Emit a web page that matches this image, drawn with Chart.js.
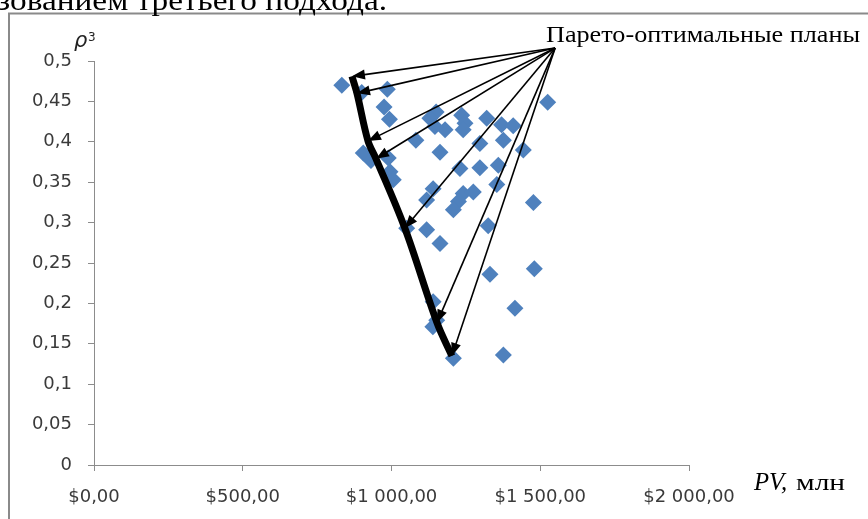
<!DOCTYPE html>
<html>
<head>
<meta charset="utf-8">
<script src="https://cdn.jsdelivr.net/npm/chart.js@4.4.0/dist/chart.umd.min.js"></script>
<style>
  html, body { margin: 0; padding: 0; background: #ffffff; overflow: hidden; }
  canvas { display: block; }
</style>
</head>
<body>
<canvas id="chart" width="868" height="519"></canvas>
<script>
// PV of every plan, $ mln
const pvValues = [
  833, 900, 986, 975, 993, 1150, 1129, 1236, 1247, 1241,
  1320, 1370, 1409, 1525, 1180, 1146, 1082, 1163, 1297, 1376,
  1443, 905, 989, 1230, 1297, 1359, 995, 1006, 1140, 1118,
  1241, 1275, 1225, 1208, 1354, 1477, 1118, 1163, 1325, 1051,
  1480, 1331, 1140, 1415, 1152, 1139, 1208, 1376, 931
];
// criterion rho^3 of every plan
const rhoValues = [
  0.470, 0.461, 0.465, 0.443, 0.428, 0.437, 0.429, 0.433, 0.423, 0.415,
  0.429, 0.421, 0.420, 0.449, 0.415, 0.419, 0.402, 0.387, 0.398, 0.402,
  0.390, 0.386, 0.380, 0.367, 0.368, 0.371, 0.363, 0.353, 0.342, 0.328,
  0.336, 0.338, 0.326, 0.316, 0.347, 0.325, 0.291, 0.274, 0.296, 0.293,
  0.243, 0.236, 0.202, 0.194, 0.179, 0.171, 0.132, 0.136, 0.377
];
// Pareto-optimal plans (frontier), from top to bottom
const paretoPV = [867, 884, 921, 948, 1045, 1153, 1203];
const paretoRho = [0.481, 0.460, 0.401, 0.379, 0.293, 0.176, 0.135];
// where the callout arrows start
const calloutPV = 1550;
const calloutRho = 0.516;

const xTickLabels = ['$0,00', '$500,00', '$1\u00a0000,00', '$1\u00a0500,00', '$2\u00a0000,00'];
const yTickLabels = ['0', '0,05', '0,1', '0,15', '0,2', '0,25', '0,3', '0,35', '0,4', '0,45', '0,5'];

const calloutText = 'Парето-оптимальные планы';
const headerText = 'использованием третьего подхода.';
const headerTail = 'зованием третьего подхода.';
const yTitleMain = 'ρ';
const yTitleSup = '3';
const xTitleItalic = 'PV,';
const xTitleUnit = 'млн';

const scatterPoints = pvValues.map((v, i) => ({ x: v, y: rhoValues[i] }));
const frontierPoints = paretoPV.map((v, i) => ({ x: v, y: paretoRho[i] }));

function drawText(ctx, text, x, y, font, align, stretch) {
  ctx.save();
  ctx.font = font;
  ctx.textBaseline = 'alphabetic';
  ctx.textAlign = 'left';
  const w = ctx.measureText(text).width * stretch;
  let left = x;
  if (align === 'right') left = x - w;
  ctx.translate(left, y);
  ctx.scale(stretch, 1);
  ctx.fillText(text, 0, 0);
  ctx.restore();
}

function drawTextToWidth(ctx, text, x, y, font, width) {
  ctx.save();
  ctx.font = font;
  const w = ctx.measureText(text).width;
  ctx.translate(x, y);
  ctx.scale(width / w, 1);
  ctx.textBaseline = 'alphabetic';
  ctx.fillText(text, 0, 0);
  ctx.restore();
}

// page frame, captions and callout arrows
const decorations = {
  id: 'decorations',
  afterDatasetsDraw(chart) {
    const ctx = chart.ctx;
    const xs = chart.scales.x, ys = chart.scales.y;
    const ox = xs.getPixelForValue(calloutPV);
    const oy = ys.getPixelForValue(calloutRho);
    ctx.save();
    ctx.strokeStyle = '#000';
    ctx.fillStyle = '#000';
    ctx.lineWidth = 1.6;
    frontierPoints.forEach(p => {
      const tx = xs.getPixelForValue(p.x);
      const ty = ys.getPixelForValue(p.y);
      const ang = Math.atan2(ty - oy, tx - ox);
      const len = 13, half = 5;
      const bx = tx - Math.cos(ang) * len;
      const by = ty - Math.sin(ang) * len;
      ctx.beginPath();
      ctx.moveTo(ox, oy);
      ctx.lineTo(bx + Math.cos(ang) * 2, by + Math.sin(ang) * 2);
      ctx.stroke();
      ctx.beginPath();
      ctx.moveTo(tx, ty);
      ctx.lineTo(bx - Math.sin(ang) * half, by + Math.cos(ang) * half);
      ctx.lineTo(bx + Math.sin(ang) * half, by - Math.cos(ang) * half);
      ctx.closePath();
      ctx.fill();
    });
    ctx.restore();
  },
  afterDraw(chart) {
    const ctx = chart.ctx;
    ctx.save();
    // frame of the figure
    ctx.strokeStyle = '#8a8a8a';
    ctx.lineWidth = 2;
    ctx.beginPath();
    ctx.moveTo(9, 519);
    ctx.lineTo(9, 13.5);
    ctx.lineTo(868, 13.5);
    ctx.stroke();

    ctx.fillStyle = '#000';
    // running text above the figure, cut by the top edge
    ctx.font = '30px "Liberation Serif"';
    const tailW = ctx.measureText(headerTail).width;
    const fullW = ctx.measureText(headerText).width;
    const k = 390 / tailW;
    ctx.save();
    ctx.translate(387 - fullW * k, 10);
    ctx.scale(k, 1);
    ctx.fillText(headerText, 0, 0);
    ctx.restore();
    // callout caption
    drawTextToWidth(ctx, calloutText, 546, 42, '23px "Liberation Serif"', 314);
    // axis captions
    ctx.fillStyle = '#222';
    drawText(ctx, yTitleMain, 74, 47, 'italic 21px "DejaVu Sans"', 'left', 1.0);
    drawText(ctx, yTitleSup, 88, 41, '12px "DejaVu Sans"', 'left', 1.0);
    ctx.fillStyle = '#000';
    drawText(ctx, xTitleItalic, 754, 490, 'italic 26px "Liberation Serif"', 'left', 0.95);
    drawText(ctx, xTitleUnit, 796, 490, '23px "Liberation Serif"', 'left', 1.28);
    ctx.restore();
  }
};

new Chart(document.getElementById('chart'), {
  type: 'scatter',
  data: {
    datasets: [
      {
        label: 'frontier',
        data: frontierPoints,
        showLine: true,
        borderColor: '#000000',
        borderWidth: 7,
        tension: 0.35,
        pointRadius: 0,
        borderJoinStyle: 'round',
        order: 1
      },
      {
        label: 'plans',
        data: scatterPoints,
        pointStyle: 'rectRot',
        pointRadius: 8.5,
        pointBackgroundColor: '#4F81BD',
        pointBorderColor: '#4F81BD',
        pointBorderWidth: 0,
        order: 2
      }
    ]
  },
  options: {
    responsive: false,
    animation: false,
    layout: { padding: { left: 0, right: 179, top: 61, bottom: 0 } },
    plugins: { legend: { display: false }, tooltip: { enabled: false } },
    scales: {
      x: {
        type: 'linear',
        min: 0,
        max: 2000,
        afterFit(scale) { scale.height = 54; },
        ticks: {
          stepSize: 500,
          padding: 16,
          color: '#3a3a3a',
          font: { family: '"DejaVu Sans"', size: 18 },
          maxRotation: 0,
          callback: (v, i) => xTickLabels[i]
        },
        grid: { drawOnChartArea: false, drawTicks: true, tickLength: 6, color: '#8c8c8c' },
        border: { display: true, color: '#8c8c8c', width: 1 }
      },
      y: {
        type: 'linear',
        min: 0,
        max: 0.5,
        afterFit(scale) { scale.width = 94; },
        ticks: {
          stepSize: 0.05,
          padding: 16,
          color: '#3a3a3a',
          font: { family: '"DejaVu Sans"', size: 18 },
          callback: (v, i) => yTickLabels[i]
        },
        grid: { drawOnChartArea: false, drawTicks: true, tickLength: 6, color: '#8c8c8c' },
        border: { display: true, color: '#8c8c8c', width: 1 }
      }
    }
  },
  plugins: [decorations]
});
</script>
</body>
</html>
